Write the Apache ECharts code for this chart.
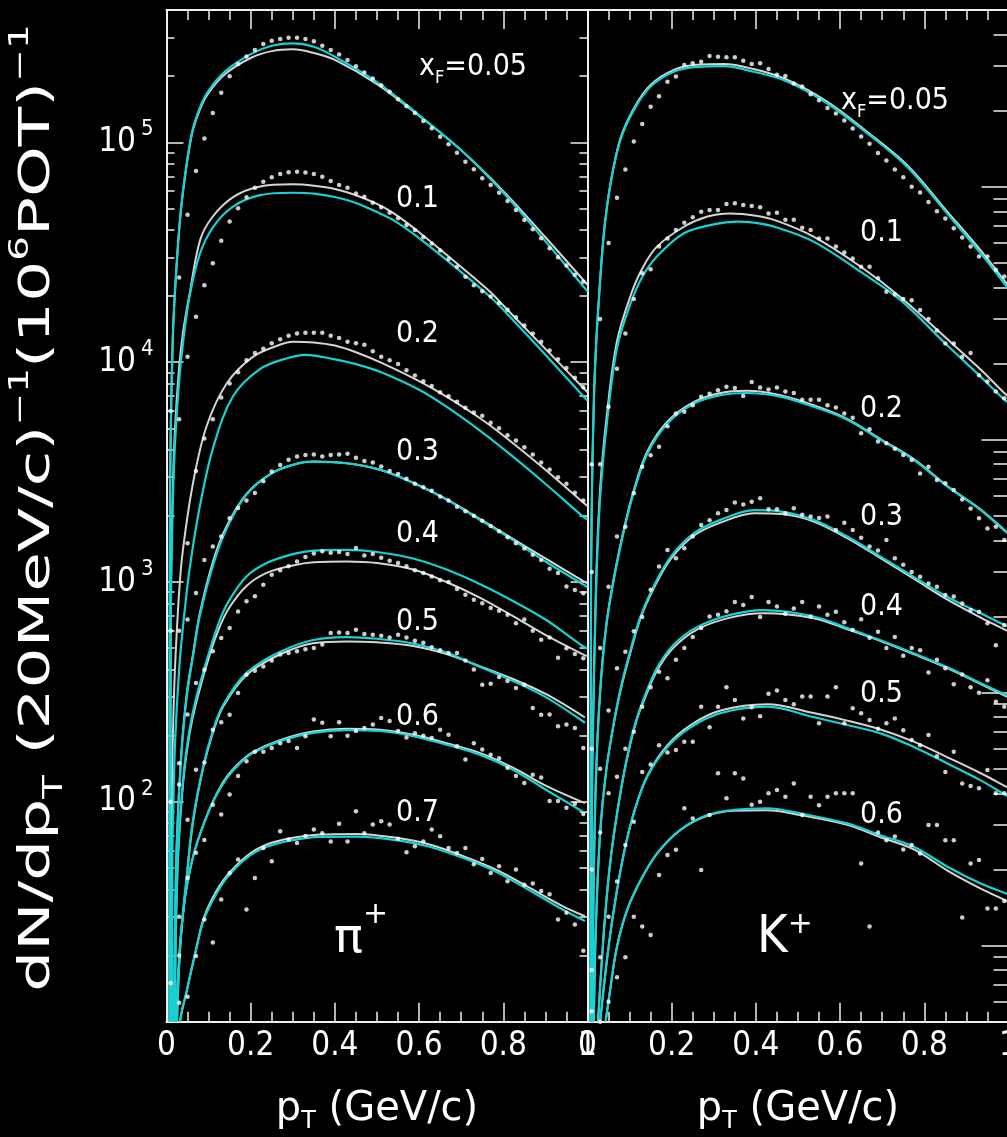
<!DOCTYPE html>
<html><head><meta charset="utf-8">
<script src="https://cdn.jsdelivr.net/npm/echarts@6/dist/echarts.min.js"></script>
<style>html,body{margin:0;padding:0;background:#000;}#c{width:1007px;height:1137px;}</style>
</head><body><div id="c"></div>
<script>
// ---------------- DATA ----------------
const ptBins = [0.01,0.03,0.05,0.07,0.09,0.11,0.13,0.15,0.17,0.19,0.21,0.23,0.25,0.27,0.29,0.31,0.33,0.35,0.37,0.39,0.41,0.43,0.45,0.47,0.49,0.51,0.53,0.55,0.57,0.59,0.61,0.63,0.65,0.67,0.69,0.71,0.73,0.75,0.77,0.79,0.81,0.83,0.85,0.87,0.89,0.91,0.93,0.95,0.97,0.99];

const piLabels = ['0.1','0.2','0.3','0.4','0.5','0.6','0.7'];
const kLabels = ['0.1','0.2','0.3','0.4','0.5','0.6'];
const xfFirst = '=0.05';
const piYTicks = [100, 1000, 10000, 100000];
const piMajor = [10, 100, 1000, 10000, 100000];
const piMinor = [20,30,40,50,60,70,80,90,200,300,400,500,600,700,800,900,2000,3000,4000,5000,6000,7000,8000,9000,20000,30000,40000,50000,60000,70000,80000,90000,200000,300000,400000];
const kMajor = [10, 100, 1000, 10000];
const kMinor = [6,7,8,9,20,30,40,50,60,70,80,90,200,300,400,500,600,700,800,900,2000,3000,4000,5000,6000,7000,8000,9000,20000,30000,40000,50000];

// pi+ data points (x_F = 0.05 ... 0.7)
const piDots005 = [6000,24300,46800,74000,104000,136000,168000,200000,227000,246000,263000,280000,290000,295000,299000,299000,295000,288000,275000,263000,251000,237000,222000,208000,195000,182000,170000,157000,146000,136000,125000,116000,106000,98000,89700,81600,75400,68600,64000,59000,54100,49200,44300,40200,36600,33000,30000,27500,25000,23200];
const piDots01 = [600,5500,10600,16100,22400,28200,35700,43600,50100,56200,62200,66200,69400,71800,73100,73500,73000,71800,69800,66700,64000,62200,58600,56600,53100,50700,47900,45200,42100,39900,37000,34700,32200,29500,27200,24500,22400,21000,19900,18600,17300,16000,14700,13500,12400,11300,10300,9400,8500,7700];
const piDots02 = [100,600,1500,3200,4500,5500,6900,8000,9000,10200,11000,11500,12200,12700,13200,13500,13600,13600,13600,13200,12900,12400,12200,12000,11200,10600,10200,9800,9200,8700,8200,7800,7300,7000,6600,6200,5900,5700,5300,5000,4650,4400,4100,3800,3500,3250,3000,2800,2550,2350];
const piDots03 = [15,150,675,891,1260,1450,1610,1950,2170,2350,2540,2870,3180,3410,3600,3720,3780,3800,3720,3780,3800,3830,3680,3550,3500,3350,3200,3100,2950,2800,2700,2600,2450,2350,2200,2100,2000,1900,1800,1700,1600,1500,1420,1330,1260,1150,1100,955,920,890];
const piDots04 = [5,120,250,347,399,484,556,618,735,817,861,972,1080,1130,1180,1240,1300,1350,1380,1360,1370,1340,1430,1320,1340,1290,1250,1220,1180,1130,1100,1060,1020,1000,930,875,830,800,762,740,710,650,675,600,547,560,452,500,470,450];
const piDots05 = [3,30,83,140,151,213,230,249,313,379,395,413,440,468,475,484,495,501,520,586,590,586,607,580,575,570,560,575,560,540,530,505,490,475,475,440,400,341,345,370,355,330,341,267,249,250,221,225,217,176];
const piDots06 = [3,20,45,58.7,67,97,87.5,108,131,153,169,169,176,185,189,176,199,237,229,199,230,200,210,217,225,241,233,210,196,205,200,195,213,202,179,156,185,173,164,158,143,131,122,133,129,101,101,94,98,88];
const piDots07 = [2,12.2,13,19.9,29.2,22.9,36,47.5,54.7,32.4,45,61.7,53.7,73.6,67.5,65,70,74.8,72,66,79.6,66,90.6,72,78.8,81.7,78.8,68,59,62.8,66,74.8,69.8,61.7,58.6,61.7,52,55,47.5,51,43.5,49.2,42,42.5,39.3,38,29.2,31.3,27.7,21];

// pi+ fitted curves: white (W) and cyan (C), [pT, value]
const piW005 = [[0.007,10],[0.008,1600],[0.01,4800],[0.015,13000],[0.02,20700],[0.03,40000],[0.04,61000],[0.06,108000],[0.08,142000],[0.1,168000],[0.14,205000],[0.2,242000],[0.25,260000],[0.3,265000],[0.35,255000],[0.4,237000],[0.5,184000],[0.6,132000],[0.7,92000],[0.8,60000],[0.9,37000],[1.0,22500]];
const piC005 = [[0.007,10],[0.008,1600],[0.01,4800],[0.015,13000],[0.02,20700],[0.03,40000],[0.04,62000],[0.06,110000],[0.08,145000],[0.1,172000],[0.14,211000],[0.2,252000],[0.25,275000],[0.3,282000],[0.35,272000],[0.4,245000],[0.5,188000],[0.6,133000],[0.7,92000],[0.8,59000],[0.9,35500],[1.0,21000]];
const piW01 = [[0.009,10],[0.01,700],[0.015,2700],[0.02,4900],[0.03,9500],[0.04,14000],[0.055,20500],[0.08,36000],[0.11,46000],[0.16,56600],[0.22,62800],[0.3,64400],[0.35,63500],[0.4,61400],[0.45,57500],[0.5,52500],[0.54,47500],[0.6,39000],[0.7,27100],[0.77,20800],[0.8,18100],[0.9,11500],[1.0,7300]];
const piC01 = [[0.009,10],[0.01,600],[0.015,2300],[0.02,4200],[0.03,8200],[0.04,12600],[0.055,20000],[0.079,31000],[0.111,41300],[0.158,51000],[0.222,57500],[0.3,59000],[0.35,58500],[0.4,56400],[0.45,53000],[0.5,48200],[0.538,44400],[0.6,36700],[0.7,25700],[0.768,19900],[0.8,17300],[0.9,10800],[1.0,6670]];
const piW02 = [[0.012,10],[0.013,120],[0.016,230],[0.02,400],[0.03,900],[0.039,1400],[0.063,2820],[0.095,5100],[0.143,8000],[0.206,10600],[0.269,12000],[0.3,12400],[0.35,12300],[0.4,11900],[0.45,11100],[0.507,10000],[0.6,8200],[0.665,6970],[0.75,5470],[0.823,4280],[0.9,3240],[0.982,2370],[1.0,2220]];
const piC02 = [[0.013,10],[0.014,60],[0.016,90],[0.02,180],[0.03,400],[0.04,650],[0.055,1150],[0.079,2200],[0.111,4100],[0.158,7000],[0.222,9300],[0.285,10400],[0.33,10800],[0.4,10300],[0.45,9800],[0.507,9050],[0.6,7500],[0.665,6280],[0.75,4800],[0.823,3720],[0.9,2800],[0.99,1980],[1.0,1930]];
const piW03 = [[0.018,10],[0.02,25],[0.025,70],[0.035,165],[0.048,310],[0.063,470],[0.079,720],[0.111,1250],[0.143,1800],[0.19,2520],[0.253,3150],[0.309,3450],[0.348,3530],[0.428,3470],[0.507,3240],[0.586,2830],[0.665,2380],[0.744,1940],[0.823,1570],[0.903,1270],[0.99,1010],[1.0,985]];
const piC03 = [[0.018,10],[0.02,25],[0.025,70],[0.035,160],[0.048,300],[0.063,460],[0.079,700],[0.111,1200],[0.143,1750],[0.19,2500],[0.253,3150],[0.309,3450],[0.348,3530],[0.428,3470],[0.507,3240],[0.586,2820],[0.665,2370],[0.744,1920],[0.823,1550],[0.903,1230],[0.99,975],[1.0,950]];
const piW04 = [[0.02,10],[0.022,25],[0.028,60],[0.04,125],[0.055,205],[0.071,285],[0.103,470],[0.127,630],[0.15,770],[0.19,960],[0.238,1100],[0.3,1190],[0.35,1230],[0.428,1240],[0.5,1220],[0.586,1140],[0.665,1000],[0.744,850],[0.823,700],[0.903,570],[0.99,468],[1.0,460]];
const piC04 = [[0.02,10],[0.022,25],[0.028,60],[0.04,130],[0.055,215],[0.071,300],[0.103,492],[0.127,675],[0.15,832],[0.19,1060],[0.238,1220],[0.3,1340],[0.35,1390],[0.428,1400],[0.5,1370],[0.586,1280],[0.665,1140],[0.744,980],[0.823,820],[0.903,670],[0.99,509],[1.0,500]];
const piW05 = [[0.022,10],[0.032,22],[0.047,43],[0.063,81],[0.087,142],[0.111,208],[0.134,270],[0.19,378],[0.269,468],[0.348,527],[0.428,537],[0.5,532],[0.586,512],[0.665,470],[0.744,414],[0.823,362],[0.903,308],[0.994,242]];
const piC05 = [[0.022,10],[0.032,22],[0.047,44],[0.063,83],[0.087,145],[0.111,213],[0.134,275],[0.19,386],[0.269,480],[0.348,545],[0.428,562],[0.5,552],[0.586,525],[0.665,478],[0.744,412],[0.823,355],[0.903,298],[0.994,229]];
const piW06 = [[0.025,10],[0.03,18],[0.037,28],[0.047,40],[0.065,58],[0.089,80],[0.115,105],[0.143,130],[0.175,152],[0.206,169],[0.269,191],[0.348,209],[0.428,215],[0.507,213],[0.586,202],[0.665,185],[0.744,167],[0.823,143],[0.903,118],[0.994,98.7]];
const piC06 = [[0.025,10],[0.03,18],[0.037,28],[0.047,40],[0.065,58],[0.089,80],[0.115,104],[0.143,128],[0.175,150],[0.206,167],[0.269,189],[0.348,206],[0.428,212],[0.507,210],[0.586,199],[0.665,182],[0.744,164],[0.823,140],[0.903,113],[0.994,89]];
const piW07 = [[0.032,10],[0.038,11.5],[0.047,13.5],[0.057,16.5],[0.067,20],[0.087,29],[0.111,37],[0.143,46],[0.19,56.6],[0.238,64],[0.3,68.6],[0.364,71],[0.451,71.5],[0.546,68.6],[0.625,64],[0.705,56.6],[0.784,49],[0.863,40.6],[0.942,33.5],[0.994,30.2]];
const piC07 = [[0.032,10],[0.038,11.5],[0.047,13.5],[0.057,16.5],[0.067,20],[0.087,28.5],[0.111,36],[0.143,45],[0.19,55.5],[0.238,62.5],[0.3,67],[0.364,69.3],[0.451,69.5],[0.546,67],[0.625,62.5],[0.705,55.5],[0.784,48],[0.863,39.5],[0.942,32.3],[0.994,28.7]];

// K+ data points (x_F = 0.05 ... 0.6)
const kDots005 = [800,3000,6000,9060,11700,15100,17700,20700,22800,26000,27300,30300,30800,31200,32900,32700,32500,32500,31500,30600,30800,29200,27700,27400,25600,24900,23200,22000,20500,19500,18300,17000,15800,14800,13600,12700,11700,10900,10000,9500,8700,8000,7500,6850,6300,5800,5300,5300,4700,4420];
const kDots01 = [300,800,1350,1910,2630,3600,4550,4720,5800,6250,6750,7210,7570,7970,8100,8100,8550,8600,8470,8400,8300,7850,7900,7400,7400,6880,6750,6250,6250,5800,5500,5210,4830,4830,4350,3850,3750,3600,3560,3260,3000,2700,2400,2400,2130,2200,1800,1700,1550,1460];
const kDots02 = [60,150,262,414,453,614,782,869,938,1130,1270,1290,1370,1480,1520,1570,1620,1600,1490,1690,1610,1580,1610,1550,1530,1440,1440,1440,1370,1340,1270,1220,1060,1100,983,968,920,870,832,736,782,693,673,633,580,535,489,446,453,401];
const kDots03 = [20,50,85,125,145,175,199,255,315,366,340,372,414,460,480,512,527,564,555,569,587,531,531,512,536,505,497,490,497,440,470,440,410,378,365,401,340,320,300,287,270,262,243,240,225,212,209,188,154,185];
const kDots04 = [8,28,40,46.5,60,70,88,105,121,114,135,150,166,180,200,203,210,228,222,239,199,228,219,205,215,228,200,219,203,209,190,177,195,165,174,150,166,140,150,147,120,135,125,108,118,105,100,112,92,88];
const kDots05 = [5.5,9,13,17.9,25,30.9,48.6,52,62,58,59.3,64,64,88,73,88,105,93.5,79,87.5,80.7,99,102,93.5,90,96.5,96.5,75.7,96.5,105,75.7,86.8,82.8,78,72,75.7,79,71,65,62,68,56,48.6,58.4,43.7,42.7,41.9,49.4,40,40];
const kDots06 = [4,5,6,7.5,9,13,11.9,11,19,22.8,23.9,34.9,31.8,19.9,32.8,48,38.2,48,45.8,36,37,40,41.2,38.8,43.7,32.8,38.8,35.9,38.8,40,40,40,21.1,11.9,28,26.1,27,24,25,23.1,30,30,26.1,26.1,12.9,21.1,21.8,14,14,15];

// K+ fitted curves
const kW005 = [[0.007,5],[0.008,180],[0.01,540],[0.015,1400],[0.02,2300],[0.027,3600],[0.039,6600],[0.055,10400],[0.078,15500],[0.11,20400],[0.15,25300],[0.205,29000],[0.26,30400],[0.324,30600],[0.395,29200],[0.474,26500],[0.569,21700],[0.664,16500],[0.759,12200],[0.854,8000],[0.934,5600],[0.993,4200],[1.0,4050]];
const kC005 = [[0.007,5],[0.008,180],[0.01,540],[0.015,1400],[0.02,2300],[0.027,3570],[0.039,6550],[0.055,10300],[0.078,15300],[0.11,20100],[0.15,24900],[0.205,28500],[0.26,29800],[0.324,30000],[0.395,28500],[0.474,26100],[0.569,21400],[0.664,16300],[0.759,12000],[0.854,7850],[0.934,5460],[0.993,4090],[1.0,3950]];
const kW01 = [[0.009,5],[0.01,30],[0.012,60],[0.02,260],[0.03,640],[0.047,1300],[0.07,2450],[0.102,3700],[0.13,4750],[0.165,5800],[0.229,6950],[0.285,7630],[0.34,7850],[0.4,7680],[0.45,7330],[0.537,6350],[0.65,4820],[0.743,3670],[0.85,2540],[0.93,1920],[0.99,1530],[1.0,1480]];
const kC01 = [[0.009,5],[0.01,28],[0.012,55],[0.02,240],[0.03,590],[0.047,1200],[0.07,2300],[0.102,3450],[0.13,4400],[0.165,5300],[0.229,6550],[0.3,7100],[0.355,7280],[0.4,7200],[0.45,6900],[0.537,6070],[0.65,4600],[0.743,3570],[0.85,2400],[0.93,1800],[0.99,1440],[1.0,1400]];
const kW02 = [[0.012,5],[0.014,15],[0.02,46],[0.03,102],[0.045,188],[0.066,305],[0.087,448],[0.11,632],[0.142,898],[0.19,1180],[0.253,1410],[0.316,1530],[0.379,1560],[0.458,1500],[0.537,1370],[0.617,1210],[0.696,1005],[0.775,838],[0.855,656],[0.934,530],[0.993,436],[1.0,428]];
const kC02 = [[0.012,5],[0.014,15],[0.02,45],[0.03,100],[0.045,185],[0.066,300],[0.087,440],[0.11,620],[0.142,880],[0.19,1160],[0.253,1390],[0.316,1500],[0.379,1530],[0.458,1480],[0.537,1350],[0.617,1200],[0.696,998],[0.775,832],[0.855,652],[0.934,527],[0.993,433],[1.0,425]];
const kW03 = [[0.015,5],[0.02,12],[0.03,28],[0.045,50],[0.066,81],[0.082,108],[0.102,144],[0.126,197],[0.158,260],[0.198,338],[0.253,418],[0.316,470],[0.396,512],[0.46,508],[0.537,475],[0.617,408],[0.696,340],[0.775,282],[0.855,233],[0.934,198],[0.99,178],[1.0,175]];
const kC03 = [[0.015,5],[0.02,12],[0.03,28],[0.045,50],[0.066,82],[0.082,110],[0.102,147],[0.126,200],[0.158,265],[0.198,345],[0.253,427],[0.316,482],[0.396,527],[0.46,520],[0.537,482],[0.617,414],[0.696,345],[0.775,287],[0.855,239],[0.934,206],[0.99,185],[1.0,182]];
const kW04 = [[0.025,5],[0.04,12],[0.055,22],[0.078,40],[0.1,61],[0.118,79],[0.134,93],[0.165,122],[0.205,151],[0.261,178],[0.339,198],[0.418,206],[0.537,197],[0.617,178],[0.696,160],[0.775,142],[0.855,125],[0.934,108],[0.993,97],[1.0,96]];
const kC04 = [[0.025,5],[0.04,12],[0.055,22],[0.078,40],[0.1,62],[0.118,80],[0.134,95],[0.165,125],[0.205,155],[0.261,182],[0.339,203],[0.418,212],[0.537,200],[0.617,180],[0.696,161],[0.775,143],[0.855,126],[0.934,109],[0.993,98],[1.0,97]];
const kW05 = [[0.03,5],[0.047,9],[0.063,14],[0.086,23],[0.11,33.5],[0.142,47],[0.19,62],[0.245,74.5],[0.316,85],[0.427,90],[0.537,83],[0.617,77.5],[0.696,71.5],[0.775,64],[0.855,55.5],[0.934,48],[0.993,42.6],[1.0,42]];
const kC05 = [[0.03,5],[0.047,9],[0.063,14],[0.086,23],[0.11,33.3],[0.142,46.6],[0.19,61],[0.245,73],[0.316,83],[0.427,88],[0.537,80],[0.617,74.5],[0.696,69],[0.775,61],[0.855,52.5],[0.934,45],[0.993,39.4],[1.0,38.8]];
const kW06 = [[0.043,5],[0.055,6.9],[0.07,9.9],[0.094,13.8],[0.126,18.1],[0.165,23.1],[0.22,28.6],[0.284,32.6],[0.347,34.1],[0.427,34.3],[0.505,32.8],[0.617,30],[0.696,26.8],[0.775,24],[0.855,19.8],[0.934,16.8],[0.993,15.1],[1.0,14.9]];
const kC06 = [[0.043,5],[0.055,6.9],[0.07,9.9],[0.094,13.8],[0.126,18.1],[0.165,23.1],[0.22,28.6],[0.284,32.8],[0.347,34.4],[0.427,34.9],[0.505,33.3],[0.617,30.4],[0.696,27.3],[0.775,24.6],[0.855,20.5],[0.934,17.6],[0.993,16.1],[1.0,15.9]];

// ---------------- CHART ----------------
const FN = "'DejaVu Sans Condensed', 'DejaVu Sans', sans-serif";
const FW = "'DejaVu Sans', sans-serif";
const AX = '#f0f0f0';
const WHITE_LINE = '#d4d4d4';
const CYAN = '#16d2d2';

const piGroups = [[piDots005,piW005,piC005],[piDots01,piW01,piC01],[piDots02,piW02,piC02],[piDots03,piW03,piC03],[piDots04,piW04,piC04],[piDots05,piW05,piC05],[piDots06,piW06,piC06],[piDots07,piW07,piC07]];
const kGroups = [[kDots005,kW005,kC005],[kDots01,kW01,kC01],[kDots02,kW02,kC02],[kDots03,kW03,kC03],[kDots04,kW04,kC04],[kDots05,kW05,kC05],[kDots06,kW06,kC06]];

function xAx(grid, pos, labels) {
  return {
    type: 'value', gridIndex: grid, position: pos, min: 0, max: 1, interval: 0.2,
    axisLine: {show: true, onZero: false, lineStyle: {color: AX, width: 2}},
    axisTick: {show: true, inside: true, length: 19, lineStyle: {color: AX, width: 1.5}},
    minorTick: {show: true, splitNumber: 4, length: 10, lineStyle: {color: AX, width: 1.5}},
    splitLine: {show: false}, minorSplitLine: {show: false},
    axisLabel: {show: labels, color: '#fff', fontSize: 33, fontFamily: FN, margin: 8},
    name: labels ? '{a|p}{s|T}{a| (GeV/c)}' : '',
    nameLocation: 'middle', nameGap: 64,
    nameTextStyle: {rich: {
      a: {fontSize: 40, fontFamily: FW, color: '#fff', lineHeight: 48},
      s: {fontSize: 24, fontFamily: FW, color: '#fff', lineHeight: 24, verticalAlign: 'bottom'}
    }}
  };
}
function yAx(grid, pos, min, max, ticks, len, showLine, labelVals) {
  const ax = {
    type: 'log', logBase: 10, gridIndex: grid, position: pos, min: min, max: max,
    axisLine: {show: showLine, onZero: false, lineStyle: {color: AX, width: 2}},
    axisTick: {show: true, inside: true, length: len, customValues: ticks, lineStyle: {color: AX, width: 1.5}},
    splitLine: {show: false},
    axisLabel: {show: false}
  };
  if (labelVals) {
    ax.axisLabel = {
      show: true, customValues: labelVals, margin: 13,
      formatter: v => '{b|10}{e|' + Math.round(Math.log10(v)) + '}',
      rich: {
        b: {fontSize: 33, fontFamily: FN, color: '#fff', lineHeight: 48},
        e: {fontSize: 22, fontFamily: FN, color: '#fff', lineHeight: 22, verticalAlign: 'top', padding: [0, 0, 0, 5]}
      }
    };
  }
  return ax;
}

const series = [];
function addGroups(groups, xi, yi) {
  groups.forEach(g => {
    series.push({type: 'line', xAxisIndex: xi, yAxisIndex: yi, data: g[1], showSymbol: false, symbol: 'none',
      smooth: 0.35, clip: true, lineStyle: {color: WHITE_LINE, width: 2}, z: 2, silent: true});
    series.push({type: 'line', xAxisIndex: xi, yAxisIndex: yi, data: g[2], showSymbol: false, symbol: 'none',
      smooth: 0.35, clip: true, lineStyle: {color: CYAN, width: 2.2}, z: 3, silent: true});
    series.push({type: 'scatter', xAxisIndex: xi, yAxisIndex: yi, data: ptBins.map((x, i) => [x, g[0][i]]),
      symbol: 'circle', symbolSize: 4.5, itemStyle: {color: '#ffffff'}, z: 5, clip: true, silent: true});
  });
}
addGroups(piGroups, 0, 0);
addGroups(kGroups, 2, 4);

// text annotations (layout kept here, separate from data)
const piLabelY = [199, 334, 452, 534, 622, 717, 813];
const kLabelY = [233, 409, 517, 607, 694, 815];
const graphics = [];
function txt(x, y, text) {
  graphics.push({type: 'text', x: x, y: y, silent: true,
    style: {text: text, fontSize: 30, fontFamily: FN, fill: '#fff', align: 'left', verticalAlign: 'middle'}});
}
piLabels.forEach((t, i) => txt(396, piLabelY[i], t));
kLabels.forEach((t, i) => txt(860, kLabelY[i], t));
function xfLabel(x, y) {
  graphics.push({type: 'text', x: x, y: y, silent: true, style: {
    text: '{a|x}{s|F}{a|' + xfFirst + '}', align: 'left', verticalAlign: 'middle', fill: '#fff',
    rich: {
      a: {fontSize: 30, fontFamily: FN, fill: '#fff', lineHeight: 40},
      s: {fontSize: 18, fontFamily: FN, fill: '#fff', lineHeight: 18, verticalAlign: 'bottom'}
    }}});
}
xfLabel(419, 67);
xfLabel(841, 101);
graphics.push({type: 'text', x: 334, y: 940, silent: true, style: {
  text: '{a|π}{p|+}', align: 'left', verticalAlign: 'middle', fill: '#fff',
  rich: {a: {fontSize: 48, fontFamily: FW, fill: '#fff', lineHeight: 80},
         p: {fontSize: 30, fontFamily: FW, fill: '#fff', lineHeight: 30, verticalAlign: 'top'}}}});
graphics.push({type: 'text', x: 757, y: 938, silent: true, style: {
  text: '{a|K}{p|+}', align: 'left', verticalAlign: 'middle', fill: '#fff',
  rich: {a: {fontSize: 52, fontFamily: FN, fill: '#fff', lineHeight: 56},
         p: {fontSize: 30, fontFamily: FW, fill: '#fff', lineHeight: 30, verticalAlign: 'top'}}}});
graphics.push({type: 'text', x: 38, y: 508, rotation: Math.PI / 2, scaleX: 1.5, silent: true, style: {
  text: '{n|dN/dp}{s|T}{n| (20MeV/c)}{p|−1}{n|(10}{p|6}{n|POT)}{p|−1}', align: 'center', verticalAlign: 'middle', fill: '#fff',
  rich: {
    n: {fontSize: 43, fontFamily: FW, fill: '#fff', lineHeight: 60},
    s: {fontSize: 26, fontFamily: FW, fill: '#fff', lineHeight: 26, verticalAlign: 'bottom'},
    p: {fontSize: 26, fontFamily: FW, fill: '#fff', lineHeight: 26, verticalAlign: 'top'}
  }}});

const option = {
  backgroundColor: '#000',
  animation: false,
  textStyle: {fontFamily: FN},
  grid: [
    {left: 166.5, top: 10, width: 421, height: 1011.7, outerBoundsMode: 'none', containLabel: false},
    {left: 587.5, top: 10, width: 421, height: 1011.7, outerBoundsMode: 'none', containLabel: false}
  ],
  xAxis: [xAx(0, 'bottom', true), xAx(0, 'top', false), xAx(1, 'bottom', true), xAx(1, 'top', false)],
  yAxis: [
    yAx(0, 'left', 10, 400000, piMajor, 17, true, piYTicks),
    yAx(0, 'left', 10, 400000, piMinor, 8, false, null),
    yAx(0, 'right', 10, 400000, piMajor, 17, true, null),
    yAx(0, 'right', 10, 400000, piMinor, 8, false, null),
    yAx(1, 'right', 5, 50000, kMajor, 27, true, null),
    yAx(1, 'right', 5, 50000, kMinor, 15, false, null)
  ],
  series: series,
  graphic: graphics
};
const chart = echarts.init(document.getElementById('c'), null, {renderer: 'canvas', devicePixelRatio: 1});
chart.setOption(option);
</script></body></html>
